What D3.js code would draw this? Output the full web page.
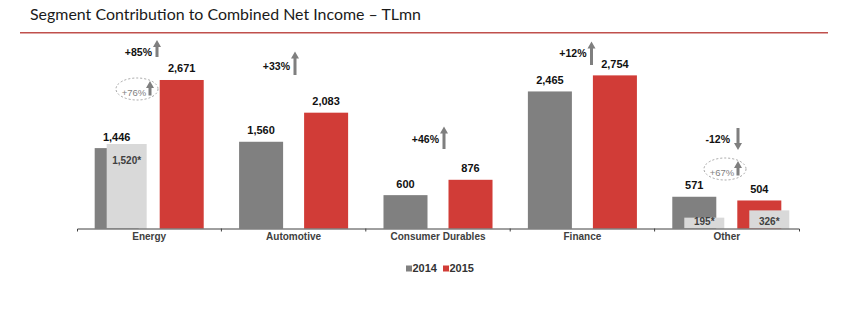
<!DOCTYPE html>
<html>
<head>
<meta charset="utf-8">
<script src="https://cdn.jsdelivr.net/npm/d3@7"></script>
<style>
  body { margin: 0; background: #fff; }
  svg { display: block; font-family: "Liberation Sans", Arial, sans-serif; }
</style>
</head>
<body>
<svg id="chart"></svg>
<script>
// segments and yearly net income, TL mn
var categories = ["Energy", "Automotive", "Consumer Durables", "Finance", "Other"],
    years = ["2014", "2015"],
    values2014 = [1446, 1560, 600, 2465, 571],
    values2015 = [2671, 2083, 876, 2754, 504],
    changeLabels = ["+85%", "+33%", "+46%", "+12%", "-12%"];

// adjusted (*) figures drawn over the reported bars
var adjCats = ["Energy", "Other", "Other"],
    adjYears = ["2014", "2014", "2015"],
    adjValues = [1520, 195, 326];

// change on adjusted basis, circled
var adjChangeCats = ["Energy", "Other"],
    adjChangeLabels = ["+76%", "+67%"];

var colors = { "2014": "#808080", "2015": "#d13c37", adj: "#d9d9d9" },
    arrowColor = "#7f7f7f";

var W = 860, H = 323;
var svg = d3.select("#chart").attr("width", W).attr("height", H);

var x = d3.scaleBand().domain(categories).range([77, 799]);
var xs = d3.scaleBand().domain(years).range([0, x.bandwidth()])
    .paddingInner(0.323).paddingOuter(0.272);
var y = d3.scaleLinear().domain([0, 3000]).range([228.5, 61.7]);

var fmt = d3.format(",");

// title + rule
svg.append("text")
    .attr("x", 30).attr("y", 20)
    .attr("font-family", "Lato, 'Open Sans', sans-serif")
    .attr("font-size", 14.5)
    .attr("fill", "#1a1a1a")
    .attr("textLength", 391)
    .attr("lengthAdjust", "spacingAndGlyphs")
    .text("Segment Contribution to Combined Net Income \u2013 TLmn");
svg.append("line")
    .attr("x1", 20).attr("x2", 828).attr("y1", 32.7).attr("y2", 32.7)
    .attr("stroke", "#c0504d").attr("stroke-width", 1.6);

var rows = [];
categories.forEach(function(c, i) {
    rows.push({ cat: c, year: "2014", value: values2014[i] });
    rows.push({ cat: c, year: "2015", value: values2015[i] });
});

function barX(d) { return x(d.cat) + xs(d.year); }

svg.append("g").selectAll("rect")
    .data(rows)
    .enter().append("rect")
    .attr("x", barX)
    .attr("y", function(d) { return y(d.value); })
    .attr("width", xs.bandwidth())
    .attr("height", function(d) { return y(0) - y(d.value); })
    .attr("fill", function(d) { return colors[d.year]; });

// adjusted bars sit a little to the right of the reported bar
var adj = adjCats.map(function(c, i) {
    return { cat: c, year: adjYears[i], value: adjValues[i] };
});
var adjShift = 12, adjW = 40;

svg.append("g").selectAll("rect")
    .data(adj)
    .enter().append("rect")
    .attr("x", function(d) { return barX(d) + adjShift; })
    .attr("y", function(d) { return y(d.value); })
    .attr("width", adjW)
    .attr("height", function(d) { return y(0) - y(d.value); })
    .attr("fill", colors.adj);

svg.append("g").selectAll("text")
    .data(adj)
    .enter().append("text")
    .attr("x", function(d) { return barX(d) + adjShift + adjW / 2; })
    .attr("y", function(d) { return Math.min(y(d.value) + 20, y(0) - 4); })
    .attr("text-anchor", "middle")
    .attr("font-size", 10).attr("font-weight", "bold")
    .attr("fill", "#404040")
    .text(function(d) { return fmt(d.value) + "*"; });

// value labels
svg.append("g").selectAll("text")
    .data(rows)
    .enter().append("text")
    .attr("x", function(d) { return barX(d) + xs.bandwidth() / 2; })
    .attr("y", function(d) { return y(d.value) - 7.5; })
    .attr("text-anchor", "middle")
    .attr("font-size", 11).attr("font-weight", "bold")
    .attr("fill", "#111")
    .text(function(d) { return fmt(d.value); });

// axis
var axis = svg.append("g")
    .attr("transform", "translate(0," + y(0) + ")")
    .call(d3.axisBottom(x).tickSize(0).tickSizeOuter(3).tickPadding(4));
axis.select(".domain").attr("stroke", "#404040");
axis.selectAll(".tick text")
    .attr("font-family", "'Liberation Sans', Arial, sans-serif")
    .attr("font-size", 10).attr("font-weight", "bold")
    .attr("fill", "#404040");
axis.selectAll(".sep")
    .data(categories.slice(1))
    .enter().append("line")
    .attr("x1", function(c) { return x(c); })
    .attr("x2", function(c) { return x(c); })
    .attr("y1", 0).attr("y2", 3)
    .attr("stroke", "#404040");

// arrows: tail y0, tip y1
function arrow(g, ax, y0, y1) {
    var dir = y1 < y0 ? 1 : -1, hw = 4, sw = 1.5, hh = 7;
    var neck = y1 + dir * hh;
    g.append("path")
        .attr("d", "M" + (ax - sw) + "," + y0 + "L" + (ax - sw) + "," + neck +
            "L" + (ax - hw) + "," + neck + "L" + ax + "," + y1 +
            "L" + (ax + hw) + "," + neck + "L" + (ax + sw) + "," + neck +
            "L" + (ax + sw) + "," + y0 + "Z")
        .attr("fill", arrowColor);
}

// where each yoy note sits (arrow x, tail, tip, text baseline)
var noteLayout = {
    "Energy": { ax: 157, y0: 57, y1: 40, ty: 55.5 },
    "Automotive": { ax: 295, y0: 75, y1: 51.5, ty: 70 },
    "Consumer Durables": { ax: 444, y0: 149, y1: 126.5, ty: 143 },
    "Finance": { ax: 591.5, y0: 65, y1: 41.5, ty: 57 },
    "Other": { ax: 738, y0: 128, y1: 150, ty: 142.5 }
};

var notes = svg.append("g");
categories.forEach(function(c, i) {
    var p = noteLayout[c];
    arrow(notes, p.ax, p.y0, p.y1);
    notes.append("text")
        .attr("x", p.ax - (p.y1 > p.y0 ? 8 : 5))
        .attr("y", p.ty)
        .attr("text-anchor", "end")
        .attr("font-size", 10.5).attr("font-weight", "bold")
        .attr("fill", "#111")
        .text(changeLabels[i]);
});

// circled adjusted changes
var ellipseAt = { "Energy": [137, 89], "Other": [725, 169] };
adjChangeCats.forEach(function(c, i) {
    var e = ellipseAt[c];
    notes.append("ellipse")
        .attr("cx", e[0]).attr("cy", e[1])
        .attr("rx", 21).attr("ry", 11)
        .attr("fill", "none")
        .attr("stroke", "#9a9a9a")
        .attr("stroke-width", 0.9)
        .attr("stroke-dasharray", "2,2");
    notes.append("text")
        .attr("x", e[0] - 3).attr("y", e[1] + 6.5)
        .attr("text-anchor", "middle")
        .attr("font-size", 9.5)
        .attr("fill", "#7f7f7f")
        .text(adjChangeLabels[i]);
    arrow(notes, e[0] + 13, e[1] + 6.5, e[1] - 8);
});

// legend
var legend = svg.append("g").attr("transform", "translate(406,272)");
var lx = 0;
years.forEach(function(yr) {
    legend.append("rect")
        .attr("x", lx).attr("y", -6.5)
        .attr("width", 6).attr("height", 6)
        .attr("fill", colors[yr]);
    legend.append("text")
        .attr("x", lx + 6.5).attr("y", 0)
        .attr("font-size", 11).attr("font-weight", "bold")
        .attr("fill", "#333")
        .text(yr);
    lx += 37;
});
</script>
</body>
</html>
